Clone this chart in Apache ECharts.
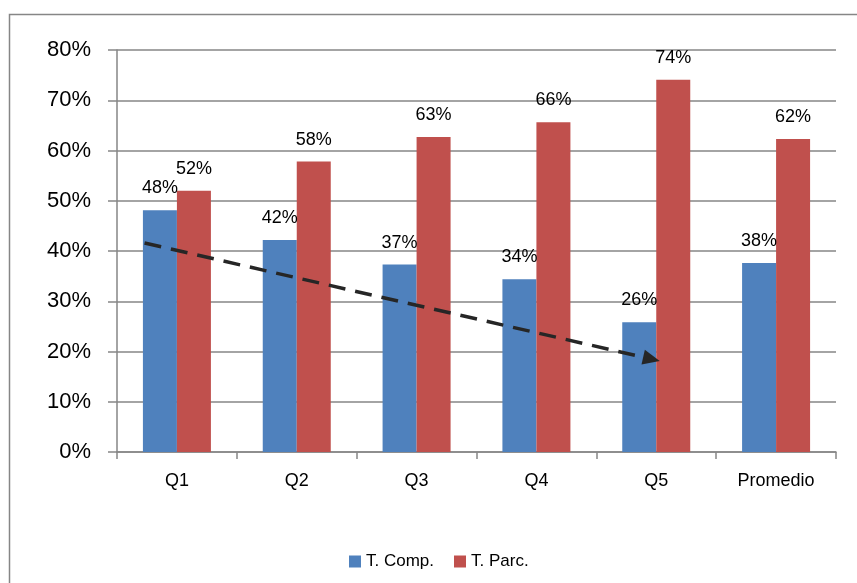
<!DOCTYPE html>
<html>
<head>
<meta charset="utf-8">
<script src="https://cdn.jsdelivr.net/npm/echarts@6/dist/echarts.min.js"></script>
<style>
html,body{margin:0;padding:0;background:#fff;}
#c{width:857px;height:583px;}
</style>
</head>
<body>
<div id="c"></div>
<script>
const categories = ['Q1', 'Q2', 'Q3', 'Q4', 'Q5', 'Promedio'];
const compValues = [48.1, 42.2, 37.3, 34.4, 25.8, 37.6];
const parcValues = [52.0, 57.8, 62.7, 65.6, 74.1, 62.3];
const seriesNames = ['T. Comp.', 'T. Parc.'];
// trend arrow endpoints in (category index, percent)
const trendStart = [-0.27, 41.6];
const trendEnd = [3.96, 18.5];

const FONT = 'Liberation Sans';
const chart = echarts.init(document.getElementById('c'), null, {renderer: 'canvas'});
const labelCfg = {
  show: true, position: 'top', distance: 13, color: '#000',
  fontFamily: FONT, fontSize: 18,
  formatter: p => Math.round(p.value) + '%'
};
chart.setOption({
  animation: false,
  textStyle: {fontFamily: FONT},
  graphic: [{
    type: 'rect', left: 7, top: 12, silent: true, z: -10,
    shape: {width: 900, height: 620},
    style: {fill: 'none', stroke: '#868686', lineWidth: 1.5}
  }],
  grid: {left: 117, right: 21, top: 50, bottom: 131, containLabel: false},
  legend: {
    left: 344, top: 548, itemWidth: 12, itemHeight: 12, itemGap: 20,
    icon: 'rect',
    textStyle: {fontFamily: FONT, fontSize: 17, color: '#000'},
    data: seriesNames
  },
  xAxis: [{
    type: 'category', data: categories,
    axisLine: {lineStyle: {color: '#868686', width: 1.5}},
    axisTick: {show: true, length: 7, lineStyle: {color: '#868686', width: 1.5}},
    axisLabel: {color: '#000', fontFamily: FONT, fontSize: 18, margin: 20}
  }, {
    type: 'value', min: -0.5, max: 5.5, show: false
  }],
  yAxis: {
    type: 'value', min: 0, max: 80, interval: 10,
    axisLine: {show: true, onZero: false, lineStyle: {color: '#868686', width: 1.5}},
    axisTick: {show: true, length: 9, lineStyle: {color: '#868686', width: 1.5}},
    splitLine: {lineStyle: {color: '#868686', width: 1.5}},
    axisLabel: {color: '#000', fontFamily: FONT, fontSize: 22, margin: 26, formatter: '{value}%'}
  },
  series: [{
    name: seriesNames[0], type: 'bar', data: compValues, barWidth: 34, barGap: '0%',
    itemStyle: {color: '#4F81BD'}, label: labelCfg
  }, {
    name: seriesNames[1], type: 'bar', data: parcValues, barWidth: 34, barGap: '0%',
    itemStyle: {color: '#C0504D'}, label: labelCfg
  }, {
    name: 'trend', type: 'line', xAxisIndex: 1, data: [trendStart, trendEnd],
    showSymbol: false, symbol: 'none', lineStyle: {opacity: 0}, silent: true, z: 5,
    markLine: {
      silent: true, animation: false,
      symbol: ['none', 'triangle'], symbolSize: [15, 17],
      label: {show: false},
      lineStyle: {color: '#262626', width: 3.5, type: [17, 10]},
      data: [[{coord: trendStart}, {coord: trendEnd}]]
    }
  }]
});
</script>
</body>
</html>
